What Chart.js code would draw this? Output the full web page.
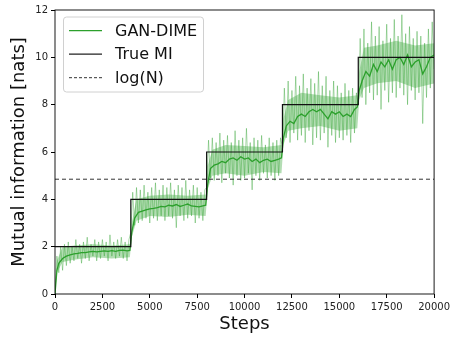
<!DOCTYPE html>
<html>
<head>
<meta charset="utf-8">
<script src="https://cdn.jsdelivr.net/npm/chart.js@4.4.0/dist/chart.umd.min.js"></script>
<style>
  html, body { margin: 0; padding: 0; background: #fff; }
  #wrap { width: 453px; height: 339px; }
</style>
</head>
<body>
<div id="wrap"><canvas id="miChart" width="453" height="339"></canvas></div>
<script>
// --- data ---
const rawStep = 100; // raw estimate sampled every 100 steps
const rawValues = [
  // 0 - 3900 (true MI 2)
  0.0, 1.6, 0.9, 2.0, 1.0, 2.1, 1.2, 2.2, 1.3, 2.0, 1.4, 2.3, 1.5, 2.1, 1.3, 2.2, 1.5, 2.4, 1.4, 2.1,
  1.6, 2.3, 1.4, 2.2, 1.5, 2.3, 1.6, 2.2, 1.4, 2.5, 1.6, 2.2, 1.5, 2.3, 1.6, 2.4, 1.5, 2.2, 1.4, 2.3,
  // 4000 - 7900 (true MI 4)
  2.6, 4.3, 2.9, 4.5, 3.0, 4.4, 3.1, 4.6, 3.2, 4.3, 3.0, 4.5, 3.2, 4.7, 3.1, 4.4, 3.3, 4.6, 3.1, 4.5,
  3.3, 4.7, 3.2, 4.4, 2.8, 4.6, 3.3, 4.5, 3.1, 4.8, 3.2, 4.4, 3.3, 4.6, 3.0, 4.5, 3.2, 4.3, 3.1, 4.4,
  // 8000 - 11900 (true MI 6)
  4.5, 6.5, 4.9, 6.6, 4.8, 6.4, 5.0, 6.8, 4.7, 6.5, 5.1, 6.7, 4.9, 6.4, 4.6, 6.9, 5.0, 6.5, 4.8, 6.6,
  4.9, 7.0, 5.1, 6.4, 4.4, 6.6, 5.0, 6.5, 4.8, 6.7, 5.1, 6.3, 4.9, 6.6, 5.0, 6.4, 4.8, 6.5, 5.0, 6.6,
  // 12000 - 15900 (true MI 8)
  6.2, 8.7, 6.6, 9.0, 6.4, 8.6, 6.8, 9.2, 6.5, 8.8, 6.7, 9.3, 6.4, 8.7, 6.9, 9.1, 6.3, 8.9, 6.6, 9.4,
  6.5, 8.8, 6.8, 9.2, 6.2, 8.6, 6.7, 9.0, 6.4, 8.8, 6.6, 8.5, 6.5, 8.9, 6.7, 8.6, 6.4, 8.7, 6.8, 8.5,
  // 16000 - 20000 (true MI 10)
  8.0, 10.8, 8.3, 11.2, 8.0, 10.6, 8.5, 11.5, 8.2, 10.9, 8.4, 11.3, 7.8, 10.7, 8.6, 11.4, 8.1, 10.8, 8.5, 11.6,
  8.3, 10.9, 8.7, 11.8, 8.4, 11.0, 8.0, 11.3, 8.6, 10.8, 8.2, 11.1, 8.5, 10.9, 7.2, 10.6, 8.3, 11.2, 8.7, 11.5,
  9.5
];

// dense core of the raw band (where the light green is solid)
const bandSteps = [
  0, 100, 400, 1000, 2000, 3000, 3950,
  4050, 4300, 5000, 6000, 7000, 7950,
  8050, 8300, 9000, 10000, 11000, 11950,
  12050, 12300, 13000, 14000, 15000, 15950,
  16050, 16300, 17000, 18000, 19000, 20000
];
const bandLow = [
  0, 0.9, 1.35, 1.45, 1.55, 1.5, 1.55,
  2.4, 3.1, 3.3, 3.25, 3.35, 3.3,
  4.4, 5.0, 5.1, 5.0, 5.15, 5.1,
  6.3, 6.9, 7.0, 7.1, 6.9, 7.0,
  8.2, 8.7, 8.9, 9.0, 8.7, 8.9
];
const bandHigh = [
  0, 1.4, 2.0, 2.05, 2.1, 2.05, 2.1,
  3.0, 4.0, 4.15, 4.2, 4.15, 4.2,
  5.4, 6.1, 6.3, 6.25, 6.2, 6.3,
  7.4, 8.2, 8.5, 8.4, 8.3, 8.4,
  9.4, 10.4, 10.5, 10.7, 10.5, 10.6
];

const smoothSteps = [
  0, 100, 200, 400, 600, 800, 1000, 1200, 1400, 1600, 1800, 2000, 2200, 2400, 2600, 2800, 3000, 3200, 3400, 3600, 3800, 3950,
  4050, 4200, 4400, 4600, 4800, 5000, 5200, 5400, 5600, 5800, 6000, 6200, 6400, 6600, 6800, 7000, 7200, 7400, 7600, 7800, 7950,
  8050, 8200, 8400, 8600, 8800, 9000, 9200, 9400, 9600, 9800, 10000, 10200, 10400, 10600, 10800, 11000, 11200, 11400, 11600, 11800, 11950,
  12050, 12200, 12400, 12600, 12800, 13000, 13200, 13400, 13600, 13800, 14000, 14200, 14400, 14600, 14800, 15000, 15200, 15400, 15600, 15800, 15950,
  16050, 16200, 16400, 16600, 16800, 17000, 17200, 17400, 17600, 17800, 18000, 18200, 18400, 18600, 18800, 19000, 19200, 19400, 19600, 19800, 20000
];
const smoothValues = [
  0.0, 1.0, 1.3, 1.5, 1.6, 1.65, 1.7, 1.72, 1.75, 1.75, 1.78, 1.8, 1.78, 1.8, 1.82, 1.8, 1.83, 1.8, 1.84, 1.85, 1.82, 1.84,
  2.6, 3.2, 3.45, 3.5, 3.55, 3.6, 3.62, 3.65, 3.7, 3.68, 3.75, 3.72, 3.78, 3.7, 3.75, 3.8, 3.72, 3.7, 3.68, 3.72, 3.75,
  4.6, 5.3, 5.45, 5.5, 5.6, 5.55, 5.7, 5.75, 5.65, 5.8, 5.7, 5.75, 5.6, 5.7, 5.55, 5.65, 5.7, 5.6, 5.65, 5.7, 5.75,
  6.6, 7.1, 7.3, 7.2, 7.5, 7.6, 7.5, 7.7, 7.8, 7.7, 7.8, 7.6, 7.4, 7.7, 7.6, 7.7, 7.5, 7.6, 7.5, 7.8, 7.9,
  8.6, 9.0, 9.4, 9.2, 9.7, 9.4, 9.8, 9.6, 9.9, 9.5, 9.9, 10.0, 9.7, 10.1, 9.6, 9.8, 9.9, 9.3, 9.6, 10.0, 10.1
];

const trueSteps = [0, 4000, 8000, 12000, 16000, 20000];
const trueValues = [2, 4, 6, 8, 10, 10];

const logN = 4.85;
const logNSteps = [0, 20000];

const xTicks = [0, 2500, 5000, 7500, 10000, 12500, 15000, 17500, 20000];

// colours
const GREEN = '#2ca02c';
const GREEN_LIGHT = 'rgba(44, 160, 44, 0.4)';
const GREEN_BAND = 'rgba(44, 160, 44, 0.36)';
const FONT = "'DejaVu Sans', sans-serif";

const rawPoints = rawValues.map((v, i) => ({ x: i * rawStep, y: v }));
const smoothPoints = smoothSteps.map((s, i) => ({ x: s, y: smoothValues[i] }));
const truePoints = trueSteps.map((s, i) => ({ x: s, y: trueValues[i] }));
const logNPoints = logNSteps.map(s => ({ x: s, y: logN }));
const bandHighPoints = bandSteps.map((s, i) => ({ x: s, y: bandHigh[i] }));
const bandLowPoints = bandSteps.map((s, i) => ({ x: s, y: bandLow[i] }));

const legendItems = [
  { label: 'GAN-DIME', color: GREEN, width: 1.3, dash: [] },
  { label: 'True MI', color: '#222', width: 1.3, dash: [] },
  { label: 'log(N)', color: '#333', width: 1, dash: [3, 2] }
];

// frame (matplotlib style box) + legend inside the axes
const framePlugin = {
  id: 'frameAndLegend',
  afterDraw(chart) {
    const { ctx, chartArea: a } = chart;
    ctx.save();
    ctx.strokeStyle = '#000';
    ctx.lineWidth = 0.9;
    ctx.strokeRect(a.left, a.top, a.right - a.left, a.bottom - a.top);

    // legend box
    const bx = 63.5, by = 17, bw = 140, bh = 75;
    ctx.beginPath();
    ctx.roundRect(bx, by, bw, bh, 3);
    ctx.fillStyle = 'rgba(255,255,255,0.8)';
    ctx.fill();
    ctx.strokeStyle = '#d0d0d0';
    ctx.lineWidth = 1;
    ctx.stroke();

    ctx.font = '16px ' + FONT;
    ctx.textBaseline = 'middle';
    ctx.textAlign = 'left';
    legendItems.forEach((it, i) => {
      const y = 30.7 + i * 23.5;
      ctx.beginPath();
      ctx.setLineDash(it.dash);
      ctx.strokeStyle = it.color;
      ctx.lineWidth = it.width;
      ctx.moveTo(69, y);
      ctx.lineTo(102, y);
      ctx.stroke();
      ctx.setLineDash([]);
      ctx.fillStyle = '#111';
      ctx.fillText(it.label, 115, y + 1);
    });
    ctx.restore();
  }
};

const ctx = document.getElementById('miChart').getContext('2d');
new Chart(ctx, {
  type: 'line',
  data: {
    datasets: [
      { label: 'log(N)', data: logNPoints, borderColor: '#333', borderWidth: 1, borderDash: [4, 3], order: 0 },
      { label: 'True MI', data: truePoints, borderColor: '#111', borderWidth: 1.2, stepped: 'before', order: 1 },
      { label: 'GAN-DIME', data: smoothPoints, borderColor: GREEN, borderWidth: 1.3, order: 2 },
      { label: 'GAN-DIME raw', data: rawPoints, borderColor: GREEN_LIGHT, borderWidth: 1, order: 3 },
      { label: 'band high', data: bandHighPoints, borderWidth: 0, borderColor: 'rgba(0,0,0,0)', backgroundColor: GREEN_BAND, fill: '+1', order: 4 },
      { label: 'band low', data: bandLowPoints, borderWidth: 0, borderColor: 'rgba(0,0,0,0)', order: 4 }
    ]
  },
  options: {
    responsive: false,
    animation: false,
    events: [],
    elements: { point: { radius: 0 }, line: { tension: 0, fill: false } },
    layout: { padding: { top: 10, right: 16, left: 0, bottom: 0 } },
    plugins: { legend: { display: false }, tooltip: { enabled: false } },
    scales: {
      x: {
        type: 'linear', min: 0, max: 20000,
        afterBuildTicks: s => { s.ticks = xTicks.map(v => ({ value: v })); },
        afterFit: s => { s.height = 45; },
        grid: { drawOnChartArea: false, drawTicks: true, tickLength: 4, color: '#000' },
        border: { display: false },
        ticks: { color: '#222', font: { family: FONT, size: 10 }, padding: 3, maxRotation: 0, callback: v => String(v) },
        title: { display: true, text: 'Steps', color: '#111', font: { family: FONT, size: 18 }, padding: { top: 0, bottom: 4 } }
      },
      y: {
        min: 0, max: 12,
        ticks: { stepSize: 2, color: '#222', font: { family: FONT, size: 10 }, padding: 3 },
        afterFit: s => { s.width = 55; },
        grid: { drawOnChartArea: false, drawTicks: true, tickLength: 4, color: '#000' },
        border: { display: false },
        title: { display: true, text: 'Mutual information [nats]', color: '#111', font: { family: FONT, size: 18 }, padding: { top: 9, bottom: 0 } }
      }
    }
  },
  plugins: [framePlugin]
});
</script>
</body>
</html>
